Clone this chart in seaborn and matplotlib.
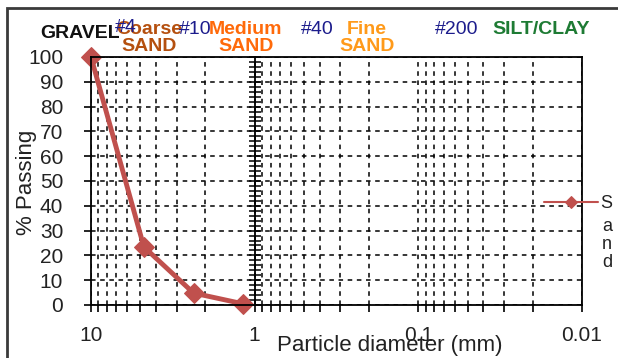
import matplotlib
matplotlib.use("Agg")
import matplotlib.pyplot as plt
import matplotlib.ticker as mticker
from matplotlib.patches import Rectangle
import seaborn as sns
import numpy as np

# ---- data ----
series_name = "Sand"
diameter_mm = [10, 4.75, 2.36, 1.18]
percent_passing = [100, 23.4, 4.8, 0.5]

y_ticks = [0, 10, 20, 30, 40, 50, 60, 70, 80, 90, 100]
x_major = [10, 1, 0.1, 0.01]
x_major_labels = ["10", "1", "0.1", "0.01"]

zone_labels = ["GRAVEL", "#4", "Coarse\nSAND", "#10", "Medium\nSAND", "#40", "Fine\nSAND", "#200", "SILT/CLAY"]

sns.set_theme(style="white")
plt.rcParams['font.family'] = ['Liberation Sans', 'DejaVu Sans']

W, H = 618, 358
fig = plt.figure(figsize=(W / 100, H / 100), dpi=100)
ax = fig.add_axes([91 / W, 1 - 305 / H, (582 - 91) / W, (305 - 57) / H])

line_color = "#C0504D"
sns.lineplot(x=diameter_mm, y=percent_passing, ax=ax, color=line_color, lw=3.5,
             marker="D", markersize=10, markeredgecolor=line_color, clip_on=False,
             label=series_name, legend=False, estimator=None, sort=False)

ax.set_xscale("log")
ax.set_xlim(10, 0.01)
ax.set_ylim(0, 100)

ax.xaxis.set_major_locator(mticker.FixedLocator(x_major))
ax.xaxis.set_major_formatter(mticker.FixedFormatter(x_major_labels))
ax.xaxis.set_minor_locator(mticker.LogLocator(base=10, subs=np.arange(2, 10)))
ax.xaxis.set_minor_formatter(mticker.NullFormatter())
ax.set_yticks(y_ticks)

ax.tick_params(axis="x", which="both", direction="out", length=5, width=1.2,
               color="black", bottom=True, labelsize=15, pad=10, labelcolor="#222")
ax.tick_params(axis="y", which="major", direction="out", length=5, width=1.2,
               color="black", left=True, labelsize=15, pad=15, labelcolor="#222")

ax.grid(True, which="both", axis="x", color="black", linestyle=(0, (3, 3)), lw=1.1)
ax.grid(True, which="major", axis="y", color="black", linestyle=(0, (3, 3)), lw=1.1)

for s in ax.spines.values():
    s.set_visible(True)
    s.set_color("black")
    s.set_linewidth(1.3)

# secondary axis crossing at x = 1
sec = ax.secondary_yaxis(1 / 3)
sec.set_yticks(np.arange(0, 101, 2))
sec.tick_params(direction="inout", length=9, width=1.1, labelleft=False, labelright=False,
                color="black")
sec.set_yticklabels([])
sec.spines["left"].set_color("black")
sec.spines["left"].set_linewidth(1.3)

ax.set_xlabel("Particle diameter (mm)", fontsize=16, color="#222")
ax.xaxis.set_label_coords((390 - 91) / 491, (305 - 335) / 248)
ax.set_ylabel("% Passing", fontsize=16, color="#222")
ax.yaxis.set_label_coords((37 - 91) / 491, (305 - 182) / 248)

# zone labels
def ftxt(px, py, s, color, bold=True, size=14):
    fig.text(px / W, 1 - py / H, s, ha="center", va="center", color=color,
             fontsize=size, fontweight="bold" if bold else "normal", linespacing=0.95)

ftxt(80, 34, zone_labels[0], "#111111")
ftxt(149, 38, zone_labels[2], "#B5500F")
ftxt(126, 28, zone_labels[1], "#1C1C8C", bold=False, size=14)
ftxt(195, 29, zone_labels[3], "#1C1C8C", bold=False, size=14)
ftxt(246, 38, zone_labels[4], "#FF6A0A")
ftxt(317, 29, zone_labels[5], "#1C1C8C", bold=False, size=14)
ftxt(367, 38, zone_labels[6], "#FF9A1A")
ftxt(457, 29, zone_labels[7], "#1C1C8C", bold=False, size=14)
ftxt(541, 30, zone_labels[8], "#1E7B34")

# legend
handles, _ = ax.get_legend_handles_labels()
fig.legend(handles, [series_name[0]], loc="center left",
           bbox_to_anchor=(544 / W, 1 - 204 / H), frameon=False, borderpad=0,
           borderaxespad=0, handlelength=3.0, handletextpad=0.1, fontsize=13,
           labelcolor="#222")
for h in fig.legends[0].legend_handles:
    h.set_linewidth(1.5)
    h.set_markersize(6)
fig.text(607 / W, 1 - 244.5 / H, "\n".join(series_name[1:]), ha="center", va="center",
         fontsize=13, color="#222", linespacing=1.05)

# outer border
fig.patches.append(Rectangle((7 / W, -0.1), 1.2, 1 - 8 / H + 0.1, transform=fig.transFigure,
                             fill=False, edgecolor="#3a3a3a", lw=2))

fig.savefig("out.png", dpi=100)
